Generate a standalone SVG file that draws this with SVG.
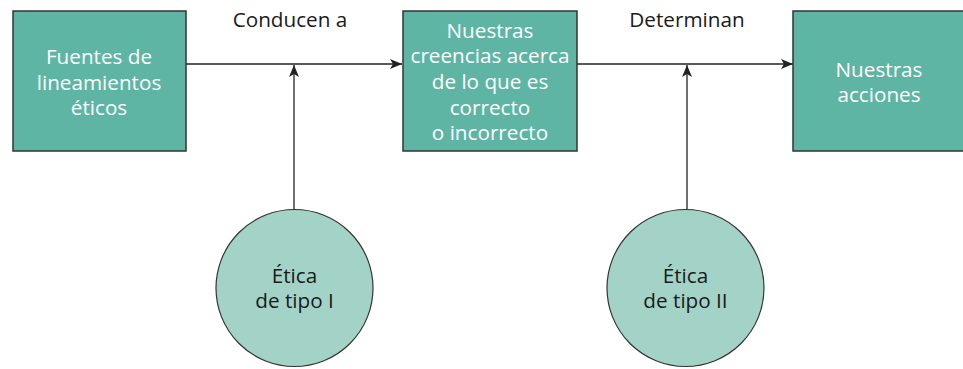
<svg xmlns="http://www.w3.org/2000/svg" width="963" height="369" viewBox="0 0 963 369">
<defs>
<style>
.box{fill:#5fb5a4;stroke:#333;stroke-width:1.5}
.circ{fill:#a3d3c7;stroke:#333;stroke-width:1.2}
.wt{font-family:"Open Sans","Noto Sans",sans-serif;font-size:20.7px;fill:#fff;text-anchor:middle}
.bt{font-family:"Open Sans","Noto Sans",sans-serif;font-size:20.7px;fill:#1a1a1a;text-anchor:middle}
.ln{stroke:#222;stroke-width:1.3;fill:none;marker-end:url(#ah)}
</style>
<marker id="ah" viewBox="0 0 12 10" refX="12" refY="5" markerWidth="12" markerHeight="10" markerUnits="userSpaceOnUse" orient="auto">
<path d="M0,0 L12,5 L0,10 L3,5 Z" fill="#222"/>
</marker>
</defs>
<rect width="963" height="369" fill="#fff"/>
<g id="connectors">
<line class="ln" x1="186" y1="64" x2="402" y2="64"/>
<line class="ln" x1="294" y1="209" x2="294" y2="65"/>
<line class="ln" x1="577" y1="64" x2="793" y2="64"/>
<line class="ln" x1="687" y1="209" x2="687" y2="65"/>
<text class="bt" x="290" y="27">Conducen a</text>
<text class="bt" x="687" y="27">Determinan</text>
</g>
<g id="fuentes">
<rect class="box" x="13" y="11" width="173" height="140"/>
<text class="wt" x="99" y="64">Fuentes de</text>
<text class="wt" x="99" y="90">lineamientos</text>
<text class="wt" x="99" y="115">éticos</text>
</g>
<g id="creencias">
<rect class="box" x="403" y="11" width="174" height="140"/>
<text class="wt" x="490" y="38">Nuestras</text>
<text class="wt" x="490" y="63">creencias acerca</text>
<text class="wt" x="490" y="89">de lo que es</text>
<text class="wt" x="490" y="115">correcto</text>
<text class="wt" x="490" y="140">o incorrecto</text>
</g>
<g id="acciones">
<rect class="box" x="793" y="11" width="175" height="140"/>
<text class="wt" x="879" y="77">Nuestras</text>
<text class="wt" x="879" y="102">acciones</text>
</g>
<g id="tipo1">
<circle class="circ" cx="294.5" cy="288" r="78.5"/>
<text class="bt" x="294.5" y="283">Ética</text>
<text class="bt" x="294.5" y="308">de tipo I</text>
</g>
<g id="tipo2">
<circle class="circ" cx="685.5" cy="288" r="78.5"/>
<text class="bt" x="685.5" y="283">Ética</text>
<text class="bt" x="685.5" y="308">de tipo II</text>
</g>
</svg>
